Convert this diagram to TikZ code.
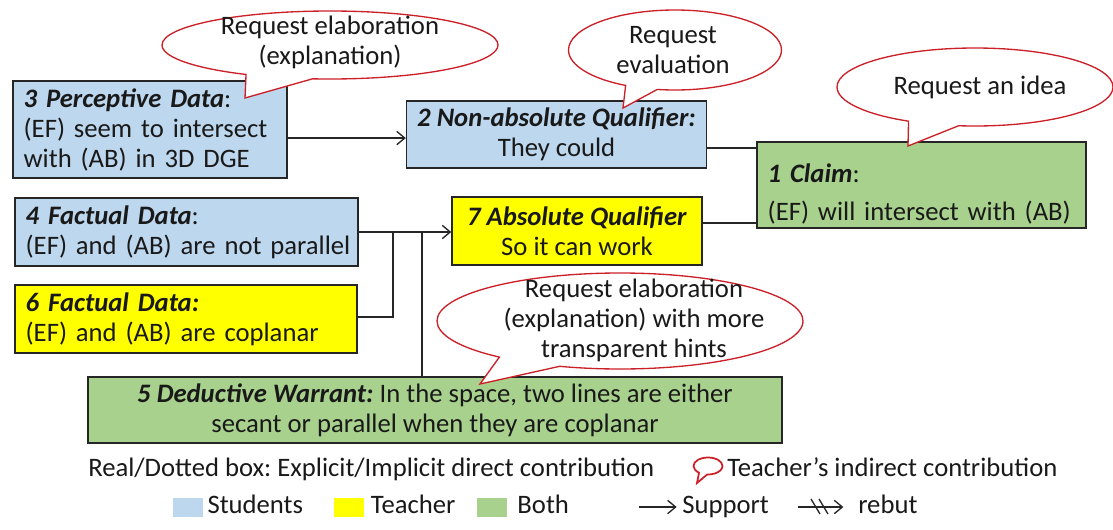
\documentclass[tikz,border=0pt]{standalone}
\usepackage{fontspec}
\setmainfont{Carlito}
\frenchspacing
\usetikzlibrary{shapes.callouts, arrows.meta, positioning}
\definecolor{stublue}{RGB}{189,215,238}
\definecolor{teayellow}{RGB}{255,255,0}
\definecolor{bothgreen}{RGB}{169,209,142}
\definecolor{bubred}{RGB}{204,32,40}
\tikzset{
    base/.style={draw=black!85, line width=1.1pt, font=\fontsize{20}{22.5}\selectfont, text=black!90, inner xsep=8pt, inner ysep=0pt},
    students/.style={base, rectangle, fill=stublue},
    teacher/.style={base, rectangle, fill=teayellow},
    both/.style={base, rectangle, fill=bothgreen},
    bubble/.style={ellipse callout, draw=bubred, line width=1pt, fill=white, inner sep=0pt},
    bubtext/.style={font=\fontsize{20}{22.5}\selectfont, text=black!90, align=center, inner sep=0pt},
    legtext/.style={font=\fontsize{20}{22.5}\selectfont, text=black!90, inner sep=0pt, text height=14pt, text depth=4pt},
    swatch/.style={minimum width=22.5pt, minimum height=14.25pt, inner sep=0pt},
    arrow/.style={-{Straight Barb[length=6pt,width=10pt]}, line width=1pt, draw=black!85},
    link/.style={line width=1pt, draw=black!85}
}

\begin{document}
\begin{tikzpicture}[x=0.75pt, y=-0.75pt]
    \useasboundingbox (0,0) rectangle (1113,529);

    % Boxes
    \node (persp) [students, text width=189.5pt, minimum height=72.75pt, align=left] at (150,129.5) {\mbox{\textbf{\textit{3 Perceptive Data}}:}\\\mbox{(EF) seem to intersect}\\\mbox{with (AB) in 3D DGE}};
    \node (nonabs) [students, minimum width=224.25pt, minimum height=50.25pt, align=center] at (556.5,134.5) {\textbf{\textit{2 Non-absolute Qualifier:}}\\They could};
    \node (claim) [both, text width=230.75pt, minimum height=64.5pt, align=left] at (921.5,185) {\rule{0pt}{28pt}\mbox{\textbf{\textit{1 Claim}}:}\\[6pt]\mbox{(EF) will intersect with (AB)}};
    \node (fact4) [students, text width=241.25pt, minimum height=51pt, align=left] at (186.5,232) {\mbox{\textbf{\textit{4 Factual Data}}:}\\\mbox{(EF) and (AB) are not parallel}};
    \node (absq) [teacher, minimum width=187.5pt, minimum height=51pt, align=center] at (577,231) {\textbf{\textit{7 Absolute Qualifier}}\\So it can work};
    \node (fact6) [teacher, text width=240.5pt, minimum height=51pt, align=left] at (186,319) {\mbox{\textbf{\textit{6 Factual Data:}}}\\\mbox{(EF) and (AB) are coplanar}};
    \node (warrant) [both, minimum width=520.5pt, minimum height=49.5pt, align=center] at (435,410) {\textbf{\textit{5 Deductive Warrant:}} In the space, two lines are either\\secant or parallel when they are coplanar};

    % Flows
    \coordinate (join6) at (393,232);
    \coordinate (join5) at (422,232);
    \draw [arrow] ([yshift=-6.4pt]persp.east) -- ([yshift=-6.4pt]persp.east -| nonabs.west);
    \draw [link] ([yshift=-10.1pt]nonabs.east) -- ([yshift=-10.1pt]nonabs.east -| claim.west);
    \draw [link] ([yshift=6pt]absq.east) -- ([yshift=6pt]absq.east -| claim.west);
    \draw [arrow] (fact4.east) -- (fact4.east -| absq.west);
    \draw [link] ([yshift=1.5pt]fact6.east) -| (join6);
    \draw [link] (warrant.north -| join5) -- (join5);

    % Teacher's requests
    \node (bubexpl) [bubble, minimum width=252pt, minimum height=51pt, callout absolute pointer={(245,98)}, callout pointer arc=24] at (330,45) {};
    \node (bubexpltxt) [bubtext] at (330,42.5) {Request elaboration\\(explanation)};
    \node (bubeval) [bubble, minimum width=159.75pt, minimum height=60pt, callout absolute pointer={(623,108)}, callout pointer arc=18] at (675,50) {};
    \node (bubevaltxt) [bubtext] at (673,50.5) {Request\\evaluation};
    \node (bubidea) [bubble, minimum width=207pt, minimum height=58.5pt, callout absolute pointer={(908,146)}, callout pointer arc=22] at (975,87) {};
    \node (bubideatxt) [bubtext] at (980,87) {Request an idea};
    \node (bubhint) [bubble, minimum width=274.5pt, minimum height=72pt, callout absolute pointer={(480,384)}, callout pointer arc=22] at (620,321) {};
    \node (bubhinttxt) [bubtext] at (634,320.5) {Request elaboration\\(explanation) with more\\transparent hints};

    % Legend
    \node (legbox) [legtext, anchor=west] at (88,470) {Real/Dotted box: Explicit/Implicit direct contribution};
    \node (legbub) [bubble, minimum width=21.75pt, minimum height=12.75pt, line width=1.3pt, callout absolute pointer={(697,483)}, callout pointer arc=35] at (708,466) {};
    \node (legbubtxt) [legtext, anchor=west] at (727,470) {Teacher’s indirect contribution};

    \node (legstu) [swatch, fill=stublue] at (188,507) {};
    \node (legstutxt) [legtext, right=3pt of legstu] {Students};
    \node (legtea) [swatch, fill=teayellow, right=22.5pt of legstutxt] {};
    \node (legteatxt) [legtext, right=5pt of legtea] {Teacher};
    \node (legboth) [swatch, fill=bothgreen, right=15.75pt of legteatxt] {};
    \node (legbothtxt) [legtext, right=7.5pt of legboth] {Both};

    \coordinate (supstart) at (639,507);
    \node (legsup) [legtext, anchor=west] at (682,507) {Support};
    \draw [arrow] (supstart) -- ([xshift=-4pt]legsup.west);
    \coordinate (rebstart) at (798,507);
    \node (legreb) [legtext, anchor=west] at (858,507) {rebut};
    \draw [arrow] (rebstart) -- ([xshift=-11pt]legreb.west);
    \draw [link] (811,499) -- (820,514) (819,499) -- (828,514);
\end{tikzpicture}
\end{document}
